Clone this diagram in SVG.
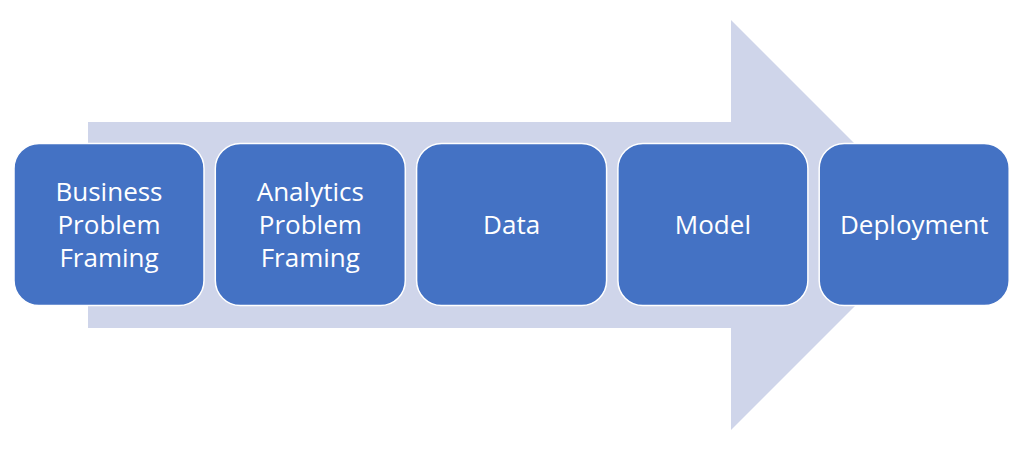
<svg xmlns="http://www.w3.org/2000/svg" width="1023" height="452" viewBox="0 0 1023 452">
<style>
.box{fill:#4472C4;stroke:#FFFFFF;stroke-width:1.5}
.t{font-family:"Open Sans","Liberation Sans",sans-serif;font-size:26px;fill:#FFFFFF;text-anchor:middle}
</style>
<rect width="1023" height="452" fill="#FFFFFF"/>
<g id="arrow">
<polygon points="88,122 731,122 731,20 936,225 731,430 731,328 88,328" fill="#CFD5EA"/>
</g>
<g id="connectors"></g>
<g id="node1">
<rect class="box" x="14" y="143.5" width="190" height="162" rx="25" ry="25"/>
<text class="t" x="109" y="200.7">Business</text>
<text class="t" x="109" y="233.7">Problem</text>
<text class="t" x="109" y="266.7">Framing</text>
</g>
<g id="node2">
<rect class="box" x="215.3" y="143.5" width="190" height="162" rx="25" ry="25"/>
<text class="t" x="310.3" y="200.7">Analytics</text>
<text class="t" x="310.3" y="233.7">Problem</text>
<text class="t" x="310.3" y="266.7">Framing</text>
</g>
<g id="node3">
<rect class="box" x="416.6" y="143.5" width="190" height="162" rx="25" ry="25"/>
<text class="t" x="511.6" y="233.5">Data</text>
</g>
<g id="node4">
<rect class="box" x="617.9" y="143.5" width="190" height="162" rx="25" ry="25"/>
<text class="t" x="712.9" y="233.5">Model</text>
</g>
<g id="node5">
<rect class="box" x="819.2" y="143.5" width="190" height="162" rx="25" ry="25"/>
<text class="t" x="914.2" y="233.5">Deployment</text>
</g>
</svg>
